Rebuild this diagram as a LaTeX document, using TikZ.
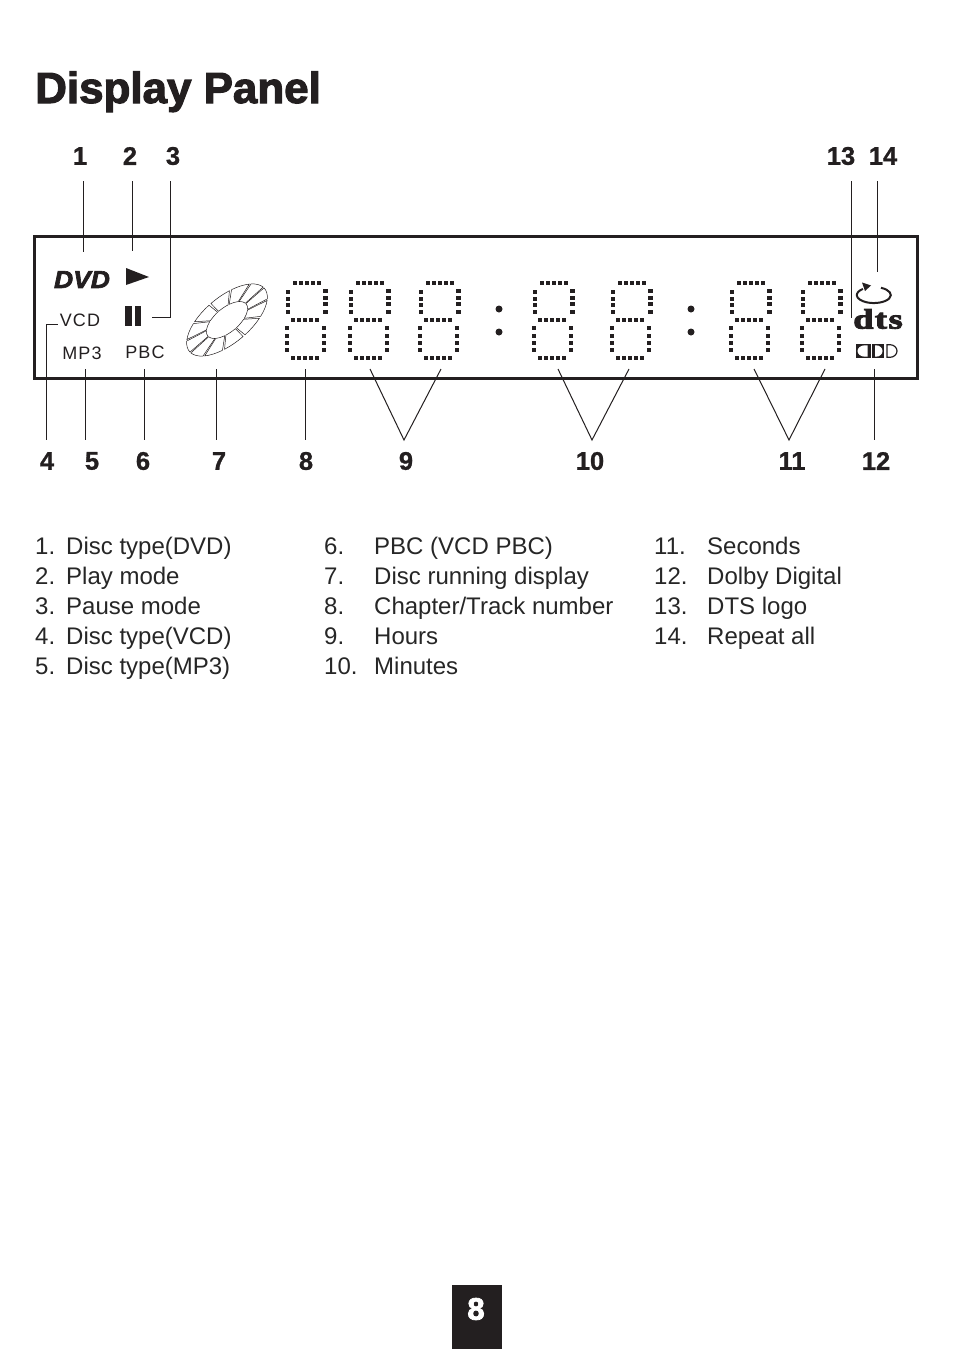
\documentclass[tikz,border=0pt]{standalone}
\usepackage{fontspec}
\setmainfont{Liberation Sans}
\newfontfamily\heavyfont[FakeBold=2.6]{Liberation Sans Bold}
\newfontfamily\numfont[FakeBold=1.0]{Liberation Sans Bold}
\newfontfamily\panelfont[LetterSpace=6]{Liberation Sans}
\newfontfamily\logofont[FakeBold=3,LetterSpace=4]{Liberation Serif Bold}
\definecolor{inkblack}{HTML}{231F20}
\tikzset{
  numlabel/.style={font=\numfont\fontsize{25.5}{26}\selectfont, minimum height=50pt, inner sep=0pt, text=inkblack},
  lowlabel/.style={numlabel, minimum height=42pt},
  panellabel/.style={font=\panelfont\fontsize{18}{20}\selectfont, inner sep=0pt, text=inkblack},
  listtext/.style={font=\fontsize{24}{26}\selectfont, anchor=base west, inner sep=0pt, text=black!85},
  leader/.style={draw=inkblack, line width=1pt}
}
\begin{document}
\begin{tikzpicture}[x=1pt, y=-1pt]
  \useasboundingbox (0,0) rectangle (954,1349);

  \node[anchor=base west, inner sep=0pt, text=inkblack, xscale=1.01, font=\heavyfont\fontsize{43.5}{44}\selectfont] (title) at (35,103) {Display Panel};

  % panel frame
  \draw[draw=inkblack, line width=3pt] (34,236) rectangle (917,378);

  % numbers on top
  \node[numlabel] (n1) at (80,156) {1};
  \node[numlabel] (n2) at (130,156) {2};
  \node[numlabel] (n3) at (173,156) {3};
  \node[numlabel] (n13) at (841,156) {13};
  \node[numlabel] (n14) at (883,156) {14};

  % numbers below
  \node[lowlabel] (n4) at (47,461) {4};
  \node[lowlabel] (n5) at (92,461) {5};
  \node[lowlabel] (n6) at (143,461) {6};
  \node[lowlabel] (n7) at (219,461) {7};
  \node[lowlabel] (n8) at (306,461) {8};
  \node[lowlabel] (n9) at (406,461) {9};
  \node[lowlabel] (n10) at (590,461) {10};
  \node[lowlabel] (n11) at (792,461) {11};
  \node[lowlabel] (n12) at (876,461) {12};

  % icons on the left
  \node[inner sep=0pt, text=inkblack, xscale=1.08, font=\heavyfont\itshape\fontsize{24.5}{25}\selectfont] (dvd) at (82,279.5) {DVD};
  \fill[inkblack] (126,268) -- (149,277) -- (126,285) -- cycle;
  \fill[inkblack] (125,306) rectangle (132,326);
  \fill[inkblack] (135,306) rectangle (141,326);
  \node[panellabel] (vcd) at (80,320) {VCD};
  \node[panellabel] (mp3) at (82,353) {MP3};
  \node[panellabel] (pbc) at (145,352) {PBC};

  % disc
  \begin{scope}[shift={(227,320)}, rotate=40, line width=0.5pt, draw=inkblack]
    \foreach \a in {5,35,...,335} {
      \pgfmathsetmacro\b{\a+27}
      \draw (\a:49pt and 23pt) arc[start angle=\a, end angle=\b, x radius=49pt, y radius=23pt]
        -- (\b:25pt and 12pt) arc[start angle=\b, end angle=\a, x radius=25pt, y radius=12pt] -- cycle;
    }
  \end{scope}

  % seven digits out of small squares
  \foreach \dx in {0,63,133,247,325,444,515} {
    \begin{scope}[shift={(\dx,0)}, inkblack]
      \foreach \x in {295,301,307,313,319} \fill (\x-2.3,280.7) rectangle +(4.6,4.6);
      \foreach \x in {293,299,305,311,317} \fill (\x-2.3,317.7) rectangle +(4.6,4.6);
      \foreach \x in {293,299,305,311,317} \fill (\x-2.3,355.7) rectangle +(4.6,4.6);
      \foreach \y in {292,299,305,312} \fill (288-2.3,\y-2.3) rectangle +(4.6,4.6);
      \foreach \y in {291,298,304,312} \fill (325.5-2.3,\y-2.3) rectangle +(4.6,4.6);
      \foreach \y in {328,336,343,350} {
        \fill (287-2.3,\y-2.3) rectangle +(4.6,4.6);
        \fill (324-2.3,\y-2.3) rectangle +(4.6,4.6);
      }
    \end{scope}
  }
  \foreach \x in {499,691} {
    \fill[inkblack] (\x,309) circle (3.5pt);
    \fill[inkblack] (\x,332) circle (3.5pt);
  }

  % icons on the right
  \draw[draw=inkblack, line width=2pt] (881,287.8) arc[start angle=65, end angle=-230, x radius=17pt, y radius=8pt];
  \fill[inkblack] (871,285.5) -- (862,282.5) -- (865,291) -- cycle;
  \node[inner sep=0pt, text=inkblack, xscale=1.3, font=\logofont\fontsize{28}{28}\selectfont] (dts) at (878,319) {dts};
  \fill[inkblack] (856,344) rectangle (871,358);
  \fill[white] (867.5,345.3) -- (865,345.3) arc[start angle=90, end angle=270, x radius=7.5pt, y radius=5.7pt] -- (867.5,356.7) -- cycle;
  \fill[inkblack] (872,344) rectangle (884,358);
  \fill[white] (875,345.3) -- (876,345.3) arc[start angle=90, end angle=-90, x radius=6.5pt, y radius=5.7pt] -- (875,356.7) -- cycle;
  \draw[draw=inkblack, line width=1.2pt] (887,344.7) -- (890,344.7) arc[start angle=90, end angle=-90, x radius=7pt, y radius=6.3pt] -- (887,357.3) -- cycle;

  % leaders
  \coordinate (e1) at (83,252);
  \coordinate (e2) at (132,251);
  \coordinate (e3) at (152,317);
  \coordinate (c3) at (170,317);
  \coordinate (e4) at (58,324);
  \coordinate (c4) at (46,324);
  \coordinate (e5) at (85,369);
  \coordinate (e6) at (144,369);
  \coordinate (e7) at (216,369);
  \coordinate (e8) at (305,369);
  \coordinate (e12) at (874,369);
  \coordinate (e13) at (851,318);
  \coordinate (e14) at (877,272);

  \draw[leader] (n1.south -| e1) -- (e1);
  \draw[leader] (n2.south -| e2) -- (e2);
  \draw[leader] (n3.south -| c3) -- (c3) -- (e3);
  \draw[leader] (n4.north -| c4) -- (c4) -- (e4);
  \draw[leader] (n5.north -| e5) -- (e5);
  \draw[leader] (n6.north -| e6) -- (e6);
  \draw[leader] (n7.north -| e7) -- (e7);
  \draw[leader] (n8.north -| e8) -- (e8);
  \draw[leader] (n12.north -| e12) -- (e12);
  \draw[leader] (n13.south -| e13) -- (e13);
  \draw[leader] (n14.south -| e14) -- (e14);

  % the three V shapes
  \coordinate (v9) at (404,440);
  \coordinate (v10) at (592,440);
  \coordinate (v11) at (789,440);
  \draw[leader] (370,369) -- (v9) -- (441,369);
  \draw[leader] (558,369) -- (v10) -- (629,369);
  \draw[leader] (754,369) -- (v11) -- (825,369);

  % list
  \foreach \y/\num/\txt in {554/1./Disc type(DVD), 584/2./Play mode, 614/3./Pause mode, 644/4./Disc type(VCD), 674/5./Disc type(MP3)} {
    \node[listtext] at (35,\y) {\num};
    \node[listtext] at (66,\y) {\txt};
  }
  \foreach \y/\num/\txt in {554/6./PBC (VCD PBC), 584/7./Disc running display, 614/8./{Chapter/Track number}, 644/9./Hours, 674/10./Minutes} {
    \node[listtext] at (324,\y) {\num};
    \node[listtext] at (374,\y) {\txt};
  }
  \foreach \y/\num/\txt in {554/11./Seconds, 584/12./Dolby Digital, 614/13./DTS logo, 644/14./Repeat all} {
    \node[listtext] at (654,\y) {\num};
    \node[listtext] at (707,\y) {\txt};
  }

  % page number
  \node[fill=inkblack, minimum width=50pt, minimum height=64pt, inner sep=0pt, anchor=north west] (page) at (452,1285) {};
  \node[text=white, inner sep=0pt, font=\heavyfont\fontsize{31}{31}\selectfont] (pagenum) at (476,1309) {8};
\end{tikzpicture}
\end{document}
